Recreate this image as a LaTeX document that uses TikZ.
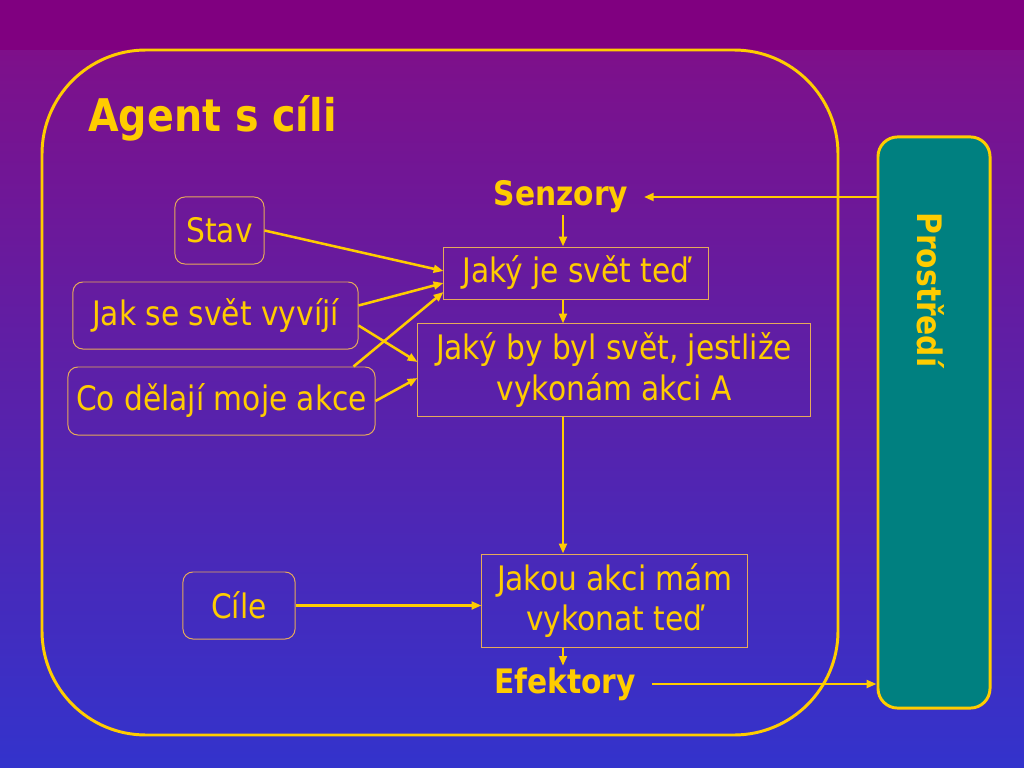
\documentclass[tikz,border=0pt]{standalone}
\usepackage{fontspec}
\setmainfont{DejaVu Sans}[FakeStretch=0.88]
\usetikzlibrary{arrows.meta,calc}
\definecolor{slidetop}{RGB}{128,0,128}
\definecolor{slidemid}{RGB}{126,16,138}
\definecolor{slidebottom}{RGB}{51,51,204}
\definecolor{goldline}{RGB}{255,204,0}
\definecolor{thinline}{RGB}{230,170,90}
\definecolor{envteal}{RGB}{0,128,128}
\tikzset{
  frame line/.style={draw=goldline,line width=2.1pt},
  plain box/.style={
    draw=thinline,
    line width=0.7pt,
    text=goldline,
    align=center,
    inner sep=0pt,
    font=\fontsize{24}{29}\selectfont
  },
  round box/.style={plain box,rounded corners=7pt},
  port label/.style={text=goldline,inner sep=1pt,font=\fontsize{24}{29}\selectfont\bfseries},
  flow/.style={-{Triangle[length=7pt,width=5.5pt]},draw=goldline,line width=1.8pt}
}

\begin{document}
\begin{tikzpicture}[x=0.025cm,y=-0.025cm]
  \useasboundingbox (0,0) rectangle (1024,768);
  \fill[top color=slidemid,bottom color=slidebottom] (0,50) rectangle (1024,768);
  \fill[slidetop] (0,0) rectangle (1024,50);

  \draw[frame line,rounded corners=2.6cm] (42,50) rectangle (838,735);
  \node[anchor=west,text=goldline,inner sep=0pt,font=\fontsize{32}{38}\selectfont\bfseries]
    (title) at (88,118) {Agent s cíli};

  \node[frame line,fill=envteal,rounded corners=14pt,minimum width=2.8cm,minimum height=14.275cm]
    (env) at (934,422.5) {};
  \node[port label,rotate=-90] (envlabel) at (931,290) {Prostředí};

  \node[port label] (senzory) at (561,197) {Senzory};
  \node[port label] (efektory) at (565,684) {Efektory};

  \node[round box,minimum width=2.225cm,minimum height=1.675cm] (stav) at (219.5,230.5) {Stav};
  \node[round box,minimum width=7.125cm,minimum height=1.675cm] (vyviji) at (215.5,315.5) {Jak se svět vyvíjí};
  \node[round box,minimum width=7.675cm,minimum height=1.7cm] (akce) at (221.5,401) {Co dělají moje akce};
  \node[round box,minimum width=2.8cm,minimum height=1.675cm] (cile) at (239,605.5) {Cíle};

  \node[plain box,minimum width=6.6cm,minimum height=1.3cm] (now) at (576,273) {Jaký je svět teď};
  \node[plain box,minimum width=9.8cm,minimum height=2.3cm] (future) at (614,370)
    {Jaký by byl svět, jestliže\\vykonám akci A};
  \node[plain box,minimum width=6.625cm,minimum height=2.325cm] (decide) at (614.5,600.5)
    {Jakou akci mám\\vykonat teď};

  % main column
  \draw[flow] (env.west |- senzory.east) -- ($(senzory.east)+(14,0)$);
  \draw[flow] ($(senzory.south)+(2,0)$) coordinate (spine) -- (spine |- now.north);
  \draw[flow] (now.south -| spine) -- (spine |- future.north);
  \draw[flow] (future.south -| spine) -- (spine |- decide.north);
  \draw[flow] (decide.south -| spine) -- (spine |- efektory.north);
  \draw[flow] ($(efektory.east)+(14,0)$) -- (efektory.east -| env.west);
  \draw[flow] (cile.east) -- (cile.east -| decide.west);

  % inputs
  \draw[flow] (stav.east) -- ($(now.west)+(0,-2)$);
  \draw[flow] ($(vyviji.east)+(0,-10)$) -- ($(now.west)+(0,10)$);
  \draw[flow] ($(vyviji.east)+(0,10)$) -- ($(future.west)+(0,-8)$);
  \draw[flow] ($(akce.north east)+(-22,0)$) -- ($(now.west)+(0,19)$);
  \draw[flow] (akce.east) -- ($(future.west)+(0,8)$);
\end{tikzpicture}
\end{document}
